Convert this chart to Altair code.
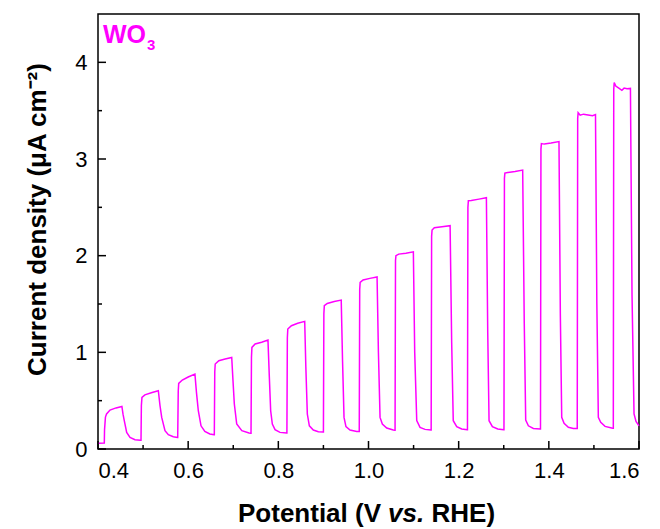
import altair as alt
import pandas as pd

# Chopped-light LSV of WO3: potential (V vs. RHE) and current density (uA cm^-2)
potential = [
    0.400, 0.414,
    0.4145, 0.4165, 0.419, 0.4266, 0.440, 0.453, 0.4555, 0.4584, 0.4636, 0.471, 0.482, 0.494,
    0.4954, 0.4962, 0.4975, 0.504, 0.520, 0.5338, 0.5375, 0.5413, 0.5486, 0.556, 0.567, 0.5765,
    0.5768, 0.578, 0.579, 0.587, 0.600, 0.615, 0.6185, 0.6225, 0.6285, 0.637, 0.648, 0.6575,
    0.658, 0.659, 0.660, 0.668, 0.682, 0.6966, 0.6995, 0.7024, 0.7077, 0.719, 0.735, 0.739,
    0.7394, 0.7404, 0.7414, 0.7485, 0.763, 0.777, 0.780, 0.783, 0.7867, 0.7927, 0.8037, 0.8185,
    0.819, 0.820, 0.821, 0.829, 0.843, 0.8585, 0.861, 0.8643, 0.8688, 0.8776, 0.8887, 0.8995,
    0.900, 0.901, 0.902, 0.9085, 0.924, 0.9395, 0.9425, 0.9457, 0.950, 0.959, 0.9739, 0.979,
    0.9795, 0.9805, 0.9815, 0.988, 1.003, 1.019, 1.022, 1.0256, 1.0307, 1.0404, 1.055, 1.0585,
    1.0589, 1.0599, 1.0609, 1.067, 1.083, 1.0995, 1.1025, 1.107, 1.1143, 1.1254, 1.1385,
    1.139, 1.140, 1.141, 1.146, 1.163, 1.181, 1.1845, 1.188, 1.1957, 1.2068, 1.219,
    1.2195, 1.2205, 1.2215, 1.228, 1.245, 1.2615, 1.2645, 1.2674, 1.2748, 1.2867, 1.300,
    1.3005, 1.3015, 1.3025, 1.309, 1.325, 1.342, 1.3455, 1.3487, 1.3546, 1.3657, 1.381,
    1.3815, 1.3825, 1.3835, 1.390, 1.405, 1.4225, 1.4255, 1.4286, 1.4338, 1.4433, 1.4544, 1.4625,
    1.463, 1.464, 1.465, 1.4695, 1.477, 1.487, 1.497, 1.5035, 1.5065, 1.5098, 1.5151, 1.5247, 1.5395, 1.5425,
    1.543, 1.544, 1.545, 1.5485, 1.556, 1.562, 1.567, 1.5735, 1.581, 1.5845, 1.589, 1.5934, 1.600,
]
current = [
    0.060, 0.062,
    0.20, 0.33, 0.362, 0.403, 0.425, 0.44, 0.36, 0.29, 0.172, 0.12, 0.096, 0.09,
    0.09, 0.45, 0.534, 0.56, 0.585, 0.603, 0.45, 0.327, 0.19, 0.148, 0.127, 0.12,
    0.12, 0.60, 0.678, 0.713, 0.745, 0.775, 0.58, 0.396, 0.24, 0.182, 0.155, 0.148,
    0.148, 0.80, 0.879, 0.913, 0.93, 0.947, 0.70, 0.465, 0.258, 0.189, 0.165, 0.162,
    0.162, 0.95, 1.051, 1.086, 1.105, 1.127, 0.75, 0.396, 0.258, 0.20, 0.172, 0.165,
    0.165, 1.15, 1.241, 1.275, 1.30, 1.32, 0.85, 0.362, 0.24, 0.196, 0.179, 0.176,
    0.176, 1.40, 1.482, 1.506, 1.525, 1.54, 0.90, 0.327, 0.231, 0.196, 0.182, 0.18,
    0.18, 1.65, 1.723, 1.748, 1.765, 1.78, 1.0, 0.327, 0.258, 0.217, 0.196, 0.194,
    0.194, 1.95, 2.0, 2.016, 2.025, 2.04, 1.0, 0.293, 0.224, 0.203, 0.196,
    0.196, 2.2, 2.265, 2.29, 2.30, 2.31, 1.1, 0.293, 0.231, 0.207, 0.20,
    0.20, 2.50, 2.568, 2.57, 2.585, 2.60, 1.2, 0.293, 0.231, 0.207, 0.20,
    0.20, 2.80, 2.854, 2.86, 2.87, 2.885, 1.3, 0.30, 0.24, 0.213, 0.207,
    0.207, 3.10, 3.16, 3.154, 3.165, 3.18, 1.4, 0.327, 0.265, 0.224, 0.213, 0.213,
    0.213, 3.42, 3.48, 3.454, 3.464, 3.455, 3.447, 3.46, 1.5, 0.327, 0.275, 0.234, 0.217, 0.215,
    0.215, 3.72, 3.79, 3.755, 3.73, 3.71, 3.733, 3.726, 3.73, 1.6, 0.362, 0.286, 0.24,
]

x_major = [0.4, 0.6, 0.8, 1.0, 1.2, 1.4, 1.6]
x_minor = [0.5, 0.7, 0.9, 1.1, 1.3, 1.5]
y_major = [0, 1, 2, 3, 4]
y_minor = [0.5, 1.5, 2.5, 3.5]

W, H = 541, 435
FONT = "Liberation Sans"
MAGENTA = "#FF00FF"

xs = alt.Scale(domain=[0.4, 1.6], nice=False, zero=False)
ys = alt.Scale(domain=[0, 4.5], nice=False, zero=False)

x_axis = alt.Axis(
    values=x_major, format=".1f", title=None, ticks=False, domain=False,
    grid=False, labelPadding=11, labelFontSize=22, labelFont=FONT,
    labelColor="black")
y_axis = alt.Axis(
    values=y_major, format="d", title="Current density (μA cm⁻²)",
    ticks=False, domain=False, grid=False, labelPadding=11,
    labelFontSize=22, labelFont=FONT, labelColor="black",
    titleFont=FONT, titleFontSize=26, titleFontWeight="bold",
    titleColor="black", titleAngle=270, titleX=-61, titleY=205,
    titleAlign="center", titleBaseline="middle")

def X():
    return alt.X("V:Q", scale=xs, axis=x_axis)

def Y():
    return alt.Y("J:Q", scale=ys, axis=y_axis)

df = pd.DataFrame({"V": potential, "J": current, "i": list(range(len(potential)))})

line = alt.Chart(df).mark_line(color=MAGENTA, strokeWidth=1.5).encode(
    x=X(), y=Y(), order=alt.Order("i:Q"))

def xticks(vals, length):
    return alt.Chart(pd.DataFrame({"V": vals})).mark_rule(
        color="black", strokeWidth=1.5).encode(
        x=X(), y=alt.value(H), y2=alt.value(H - length))

def yticks(vals, length):
    return alt.Chart(pd.DataFrame({"J": vals})).mark_rule(
        color="black", strokeWidth=1.5).encode(
        y=Y(), x=alt.value(0), x2=alt.value(length))

def label(text, x, y, size, color="black", style="normal", weight="bold"):
    return alt.Chart(pd.DataFrame({"t": [text]})).mark_text(
        align="left", baseline="alphabetic", font=FONT, fontSize=size,
        fontWeight=weight, fontStyle=style, color=color).encode(
        x=alt.value(x), y=alt.value(y), text="t:N")

chart = alt.layer(
    line,
    xticks(x_major, 8), xticks(x_minor, 4),
    yticks(y_major, 8), yticks(y_minor, 4),
    label("Potential (V", 140, 508, 26),
    label("vs.", 290, 508, 26, style="italic"),
    label("RHE)", 333.5, 508, 26),
    label("WO", 5, 29, 25, color=MAGENTA),
    label("3", 49, 36, 15, color=MAGENTA),
).properties(
    width=W, height=H,
    autosize=alt.AutoSizeParams(type="none"),
    padding={"left": 90, "top": 6, "right": 13, "bottom": 78},
).configure_view(stroke="black", strokeWidth=1.5)

chart.save("out.html", embed_options={"renderer": "svg", "actions": False})
